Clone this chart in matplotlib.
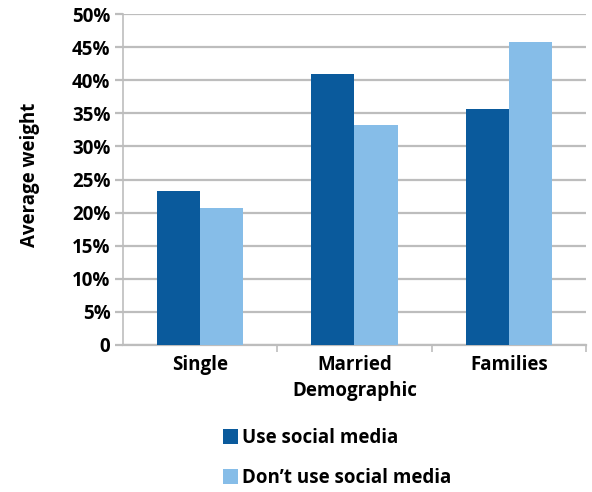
import numpy as np
import matplotlib.pyplot as plt
from matplotlib.ticker import FuncFormatter

# data
categories = ['Single', 'Married\nDemographic', 'Families']
use_social = [23.3, 40.9, 35.7]
no_social = [20.7, 33.2, 45.7]
series_names = ['Use social media', 'Don\u2019t use social media']

plt.rcParams['font.family'] = ['Open Sans', 'DejaVu Sans']

fig = plt.figure(figsize=(5.92, 4.92), dpi=100)
ax = fig.add_axes([123/592, 1 - 345/492, (586 - 123)/592, (345 - 14)/492])

x = np.arange(len(categories))
w = 0.28
ax.bar(x - w/2, use_social, w, color='#0a5a9c', label=series_names[0], zorder=3)
ax.bar(x + w/2, no_social, w, color='#86bde8', label=series_names[1], zorder=3)

ax.set_xlim(-0.5, 2.5)
ax.set_ylim(0, 50)
ax.set_yticks(np.arange(0, 51, 5))
ax.yaxis.set_major_formatter(FuncFormatter(lambda v, p: '0' if v == 0 else f'{v:.0f}%'))
ax.grid(axis='y', color='#bdbdbd', linewidth=1.6, zorder=0)

ax.set_xticks(x)
ax.set_xticklabels(categories, fontsize=13.5, fontweight='bold', linespacing=1.45)
ax.tick_params(axis='x', length=0, pad=7)
ax.set_xticks([0.5, 1.5, 2.5], minor=True)
ax.tick_params(axis='x', which='minor', length=5, color='#bdbdbd', width=1.2)
ax.tick_params(axis='y', length=6, color='#bdbdbd', width=1.6, labelsize=13.5, pad=3)
for lab in ax.get_yticklabels():
    lab.set_fontweight('bold')

for side in ['top', 'right']:
    ax.spines[side].set_visible(False)
ax.spines['left'].set_color('#bdbdbd')
ax.spines['left'].set_linewidth(1.2)
ax.spines['bottom'].set_color('#bdbdbd')
ax.spines['bottom'].set_linewidth(1.6)

fig.text(30/592, 1 - 175/492, 'Average weight', rotation=90, ha='center', va='center',
         fontsize=13.5, fontweight='bold')

leg = fig.legend(loc='center', bbox_to_anchor=(337/592, 1 - 458/492), ncol=1, frameon=False,
                 prop={'size': 13.5, 'weight': 'bold'}, handlelength=0.85, handleheight=0.85,
                 handletextpad=0.2, labelspacing=1.1)

fig.savefig('out.png', dpi=100)
